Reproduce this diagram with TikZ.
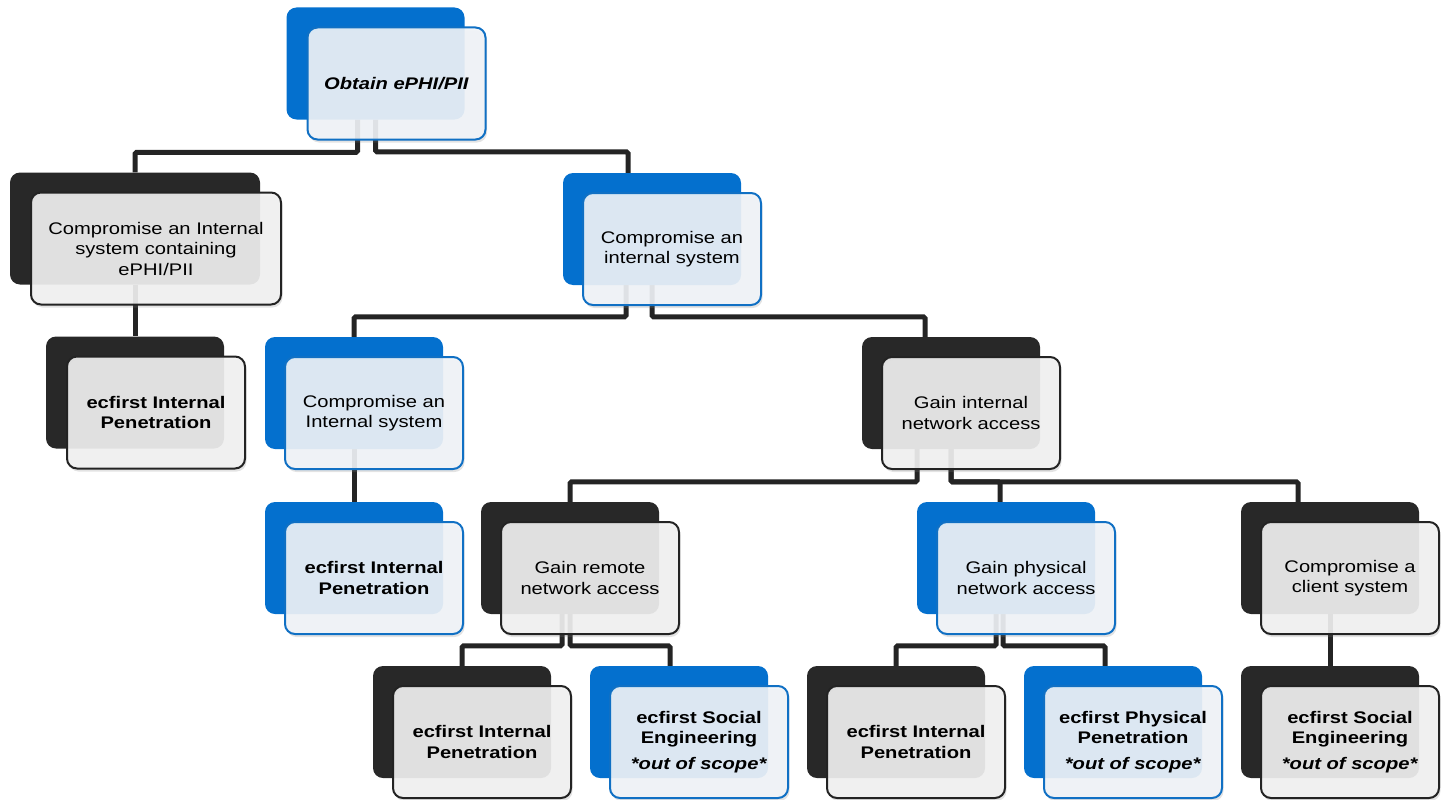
\documentclass[tikz,border=0pt]{standalone}
\usepackage{fontspec}
\setmainfont{Liberation Sans}[FakeStretch = 1.2]
\usepackage{xcolor}
\usepackage{tikz}
\usetikzlibrary{backgrounds, shadows}

\definecolor{bluemid}{RGB}{4,112,206}
\definecolor{darkmid}{RGB}{40,40,40}
\definecolor{blueedge}{RGB}{16,112,196}
\definecolor{darkedge}{RGB}{35,35,35}
\definecolor{bluepale}{RGB}{241,244,248}
\definecolor{darkpale}{RGB}{242,242,242}
\definecolor{linkgray}{RGB}{36,36,36}

\tikzset{
    backbox/.style = {rounded corners = 10pt, minimum width = 178pt, minimum height = 112pt, inner sep = 0pt},
    backblue/.style = {backbox, fill = bluemid},
    backdark/.style = {backbox, fill = darkmid},
    frontbox/.style = {rounded corners = 10pt, line width = 2pt, minimum width = 178pt, minimum height = 112pt, inner sep = 2pt, align = center, fill opacity = 0.9, text opacity = 1, font = \fontsize{16.8}{20.5}\selectfont, drop shadow = {opacity = 0.22, shadow xshift = 1.5pt, shadow yshift = -3pt}},
    frontblue/.style = {frontbox, draw = blueedge, fill = bluepale},
    frontdark/.style = {frontbox, draw = darkedge, fill = darkpale},
    link/.style = {line width = 5pt, draw = linkgray, rounded corners = 1.5pt}
}

\begin{document}
\begin{tikzpicture}[x = 1pt, y = -1pt]
    \useasboundingbox (0, 0) rectangle (1445, 800);
    
    % Level 0
    \node[backblue] (obtainB) at (375.5, 63.5) {};
    \node[frontblue] (obtain) at ([shift = {(21, 20)}]obtainB.center) {\textbf{\textit{Obtain ePHI/PII}}};
    
    % Level 1
    \node[backdark, minimum width = 250pt] (ciscB) at (135, 228.5) {};
    \node[frontdark, minimum width = 250pt] (cisc) at ([shift = {(21, 20)}]ciscB.center) {Compromise an Internal\\system containing\\ePHI/PII};
    %
    \node[backblue] (cisB) at (652, 229) {};
    \node[frontblue] (cis) at ([shift = {(20, 20)}]cisB.center) {Compromise an\\internal system};
    
    % Level 2
    \node[backdark] (pen1B) at (135, 392.5) {};
    \node[frontdark] (pen1) at ([shift = {(21, 20)}]pen1B.center) {\textbf{ecfirst Internal}\\\textbf{Penetration}};
    %
    \node[backblue] (cis2B) at (354, 393) {};
    \node[frontblue] (cis2) at ([shift = {(20, 20)}]cis2B.center) {Compromise an\\Internal system};
    %
    \node[backdark] (giaB) at (951, 393) {};
    \node[frontdark] (gia) at ([shift = {(20, 20)}]giaB.center) {Gain internal\\network access};
    
    % Level 3
    \node[backblue] (pen2B) at (354, 558) {};
    \node[frontblue] (pen2) at ([shift = {(20, 20)}]pen2B.center) {\textbf{ecfirst Internal}\\\textbf{Penetration}};
    %
    \node[backdark] (graB) at (570, 558) {};
    \node[frontdark] (gra) at ([shift = {(20, 20)}]graB.center) {Gain remote\\network access};
    %
    \node[backblue] (gpaB) at (1006, 558) {};
    \node[frontblue] (gpa) at ([shift = {(20, 20)}]gpaB.center) {Gain physical\\network access};
    %
    \node[backdark] (ccsB) at (1330, 558) {};
    \node[frontdark] (ccs) at ([shift = {(20, 20)}]ccsB.center) {Compromise a\\client system};
    
    % Level 4
    \node[backdark] (pen3B) at (462, 722) {};
    \node[frontdark] (pen3) at ([shift = {(20, 20)}]pen3B.center) {\textbf{ecfirst Internal}\\\textbf{Penetration}};
    %
    \node[backblue] (soc1B) at (679, 722) {};
    \node[frontblue] (soc1) at ([shift = {(20, 20)}]soc1B.center) {\textbf{ecfirst Social}\\\textbf{Engineering}\\[5pt]\textbf{\textit{*out of scope*}}};
    %
    \node[backdark] (pen4B) at (896, 722) {};
    \node[frontdark] (pen4) at ([shift = {(20, 20)}]pen4B.center) {\textbf{ecfirst Internal}\\\textbf{Penetration}};
    %
    \node[backblue] (phyB) at (1113, 722) {};
    \node[frontblue] (phy) at ([shift = {(20, 20)}]phyB.center) {\textbf{ecfirst Physical}\\\textbf{Penetration}\\[5pt]\textbf{\textit{*out of scope*}}};
    %
    \node[backdark] (soc2B) at (1330, 722) {};
    \node[frontdark] (soc2) at ([shift = {(20, 20)}]soc2B.center) {\textbf{ecfirst Social}\\\textbf{Engineering}\\[5pt]\textbf{\textit{*out of scope*}}};
    
    % Lines
    \begin{scope}[on background layer]
        \draw[link] ([xshift = -18pt]obtainB.south) |- ([yshift = 20pt]ciscB.north) -- (ciscB.north);
        %
        \draw[link] (obtainB.south) |- ([xshift = -24pt, yshift = 21pt]cisB.north) -- ([xshift = -24pt]cisB.north);
        
        \draw[link] (ciscB.south) -- (pen1B.north);
        
        \draw[link] ([xshift = -26pt]cisB.south) |- ([yshift = 20pt]cis2B.north) -- (cis2B.north);
        %
        \draw[link] (cisB.south) |- ([xshift = -26pt, yshift = 20pt]giaB.north) -- ([xshift = -26pt]giaB.north);
        
        \draw[link] (cis2B.south) -- (pen2B.north);
        
        \draw[link] ([xshift = -34pt]giaB.south) |- ([yshift = 20pt]graB.north) -- (graB.north);
        %
        \draw[link] (giaB.south) |- ([xshift = -6pt, yshift = 20pt]gpaB.north) -- ([xshift = -6pt]gpaB.north);
        %
        \draw[link] (giaB.south) |- ([xshift = -32pt, yshift = 20pt]ccsB.north) -- ([xshift = -32pt]ccsB.north);
        
        \draw[link] ([xshift = -8pt]graB.south) |- ([yshift = 20pt]pen3B.north) -- (pen3B.north);
        %
        \draw[link] (graB.south) |- ([xshift = -9pt, yshift = 20pt]soc1B.north) -- ([xshift = -9pt]soc1B.north);
        
        \draw[link] ([xshift = -10pt]gpaB.south) |- ([yshift = 20pt]pen4B.north) -- (pen4B.north);
        %
        \draw[link] ([xshift = -3pt]gpaB.south) |- ([xshift = -8pt, yshift = 20pt]phyB.north) -- ([xshift = -8pt]phyB.north);
        
        \draw[link] (ccsB.south) -- (soc2B.north);
    \end{scope}
\end{tikzpicture}
\end{document}
